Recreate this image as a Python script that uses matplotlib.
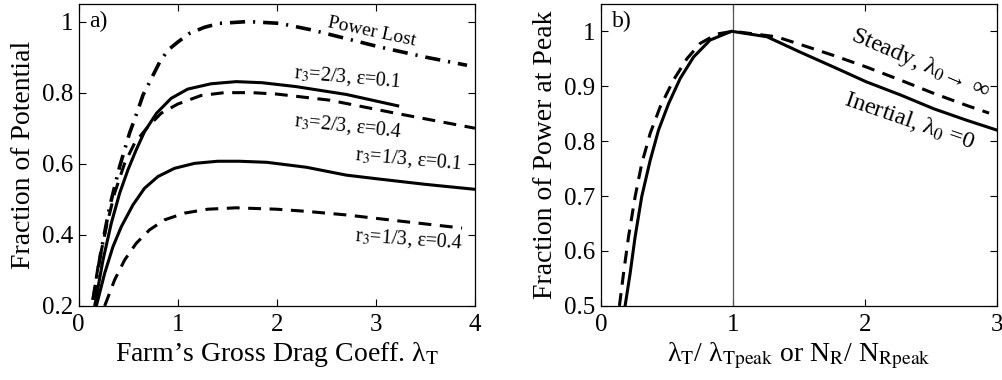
import matplotlib
matplotlib.use('Agg')
import matplotlib.pyplot as plt

plt.rcParams['font.family'] = ['Liberation Serif', 'DejaVu Serif']
plt.rcParams['mathtext.fontset'] = 'stix'

# panel a) -- fraction of potential vs gross drag coefficient
lost_x = [0.144, 0.228, 0.312, 0.413, 0.513, 0.59, 0.65, 0.718, 0.819, 0.902, 1.003, 1.12, 1.27, 1.423,
          1.708, 2.03, 2.36, 3.03, 3.5, 3.92]
lost_y = [0.217, 0.358, 0.479, 0.592, 0.686, 0.745, 0.794, 0.831, 0.887, 0.92, 0.943, 0.967, 0.984, 0.995,
          1.0, 0.995, 0.976, 0.929, 0.90, 0.877]

s23_x = [0.161, 0.245, 0.329, 0.413, 0.497, 0.58, 0.664, 0.785, 0.933, 1.1, 1.336, 1.59, 1.85, 2.195, 2.7, 3.22]
s23_y = [0.2, 0.329, 0.433, 0.517, 0.583, 0.639, 0.69, 0.742, 0.784, 0.81, 0.825, 0.831, 0.828, 0.817, 0.795, 0.763]

d23_x = [0.144, 0.195, 0.279, 0.362, 0.463, 0.564, 0.698, 0.832, 1.0, 1.235, 1.47, 1.75, 2.0, 2.53, 3.2, 4.0]
d23_y = [0.217, 0.311, 0.423, 0.517, 0.601, 0.658, 0.704, 0.742, 0.768, 0.792, 0.80, 0.80, 0.796, 0.779, 0.742, 0.70]

s13_x = [0.178, 0.262, 0.346, 0.43, 0.547, 0.664, 0.8, 0.966, 1.168, 1.403, 1.62, 1.9, 2.3, 2.7, 3.0, 3.5, 4.0]
s13_y = [0.2, 0.292, 0.367, 0.423, 0.484, 0.531, 0.564, 0.587, 0.601, 0.607, 0.607, 0.604, 0.59, 0.568, 0.558, 0.542, 0.528]

d13_x = [0.262, 0.362, 0.463, 0.58, 0.715, 0.866, 1.067, 1.3, 1.59, 2.0, 2.3, 2.7, 3.2, 3.87]
d13_y = [0.2, 0.273, 0.329, 0.376, 0.414, 0.442, 0.461, 0.472, 0.476, 0.472, 0.466, 0.456, 0.44, 0.419]

# panel b) -- fraction of power at peak
inert_x = [0.184, 0.222, 0.26, 0.31, 0.374, 0.437, 0.513, 0.601, 0.702, 0.828, 0.99,
           1.258, 1.51, 1.762, 2.01, 2.27, 2.52, 2.77, 3.0]
inert_y = [0.5, 0.559, 0.626, 0.699, 0.765, 0.82, 0.868, 0.914, 0.953, 0.984, 1.0,
           0.99, 0.962, 0.935, 0.908, 0.884, 0.859, 0.838, 0.82]

steady_x = [0.141, 0.172, 0.21, 0.26, 0.31, 0.374, 0.449, 0.55, 0.652, 0.753, 0.879, 1.0,
            1.33, 1.51, 1.762, 2.01, 2.27, 2.52, 2.77, 2.94]
steady_y = [0.5, 0.559, 0.626, 0.699, 0.759, 0.814, 0.862, 0.911, 0.95, 0.978, 0.995, 1.0,
            0.99, 0.976, 0.956, 0.935, 0.911, 0.887, 0.865, 0.851]

fig = plt.figure(figsize=(10.03, 3.8), dpi=100)
ax1 = fig.add_axes([0.0785, 0.195, 0.395, 0.795])
ax2 = fig.add_axes([0.599, 0.195, 0.395, 0.795])

lw = 2.2
ax1.plot(lost_x, lost_y, color='black', lw=2.6, dashes=(4.2, 2.2, 0.6, 2.2))
ax1.plot(s23_x, s23_y, color='black', lw=lw)
ax1.plot(d23_x, d23_y, color='black', lw=lw, dashes=(4.2, 2.8))
ax1.plot(s13_x, s13_y, color='black', lw=lw)
ax1.plot(d13_x, d13_y, color='black', lw=lw, dashes=(4.2, 2.8))

ax1.text(2.96, 0.97, 'Power Lost', fontsize=14, rotation=-12, ha='center', va='center')
ax1.text(2.72, 0.843, r'r$_3$=2/3, ε=0.1', fontsize=14.5, rotation=-5, ha='center', va='center')
ax1.text(2.72, 0.706, r'r$_3$=2/3, ε=0.4', fontsize=14.5, rotation=-6, ha='center', va='center')
ax1.text(3.33, 0.612, r'r$_3$=1/3, ε=0.1', fontsize=14.5, rotation=-5, ha='center', va='center')
ax1.text(3.33, 0.388, r'r$_3$=1/3, ε=0.4', fontsize=14.5, rotation=-4, ha='center', va='center')
ax1.text(0.027, 0.975, 'a)', fontsize=17, transform=ax1.transAxes, va='top', ha='left')

ax1.set_xlim(0, 4)
ax1.set_ylim(0.2, 1.05)
ax1.set_xticks([0, 1, 2, 3, 4])
ax1.set_yticks([0.2, 0.4, 0.6, 0.8, 1.0])
ax1.set_yticklabels(['0.2', '0.4', '0.6', '0.8', '1'])
ax1.set_xlabel('Farm’s Gross Drag Coeff. λ$_\\mathrm{T}$', fontsize=20, labelpad=3)
ax1.set_ylabel('Fraction of Potential', fontsize=20, labelpad=4)

ax2.axvline(1, color='#555555', lw=0.9)
ax2.plot(inert_x, inert_y, color='black', lw=lw)
ax2.plot(steady_x, steady_y, color='black', lw=lw, dashes=(4.2, 2.8))
ax2.text(2.42, 0.941, 'Steady, λ$_0$→ ∞', fontsize=17.5, rotation=-23, ha='center', va='center')
ax2.text(2.34, 0.836, 'Inertial, λ$_0$ =0', fontsize=17.5, rotation=-19, ha='center', va='center')
ax2.text(0.027, 0.975, 'b)', fontsize=17, transform=ax2.transAxes, va='top', ha='left')

ax2.set_xlim(0, 3)
ax2.set_ylim(0.5, 1.05)
ax2.set_xticks([0, 1, 2, 3])
ax2.set_yticks([0.5, 0.6, 0.7, 0.8, 0.9, 1.0])
ax2.set_yticklabels(['0.5', '0.6', '0.7', '0.8', '0.9', '1'])
ax2.set_xlabel('λ$_\\mathrm{T}$/ λ$_\\mathrm{Tpeak}$ or N$_\\mathrm{R}$/ N$_\\mathrm{Rpeak}$', fontsize=20, labelpad=3)
ax2.set_ylabel('Fraction of Power at Peak', fontsize=20, labelpad=4)

for ax in (ax1, ax2):
    ax.tick_params(direction='in', top=True, right=True, length=5, width=0.8, labelsize=18, pad=4)
    ax.tick_params(axis='x', pad=6)
    for sp in ax.spines.values():
        sp.set_linewidth(0.9)

fig.savefig('out.png', dpi=100)
